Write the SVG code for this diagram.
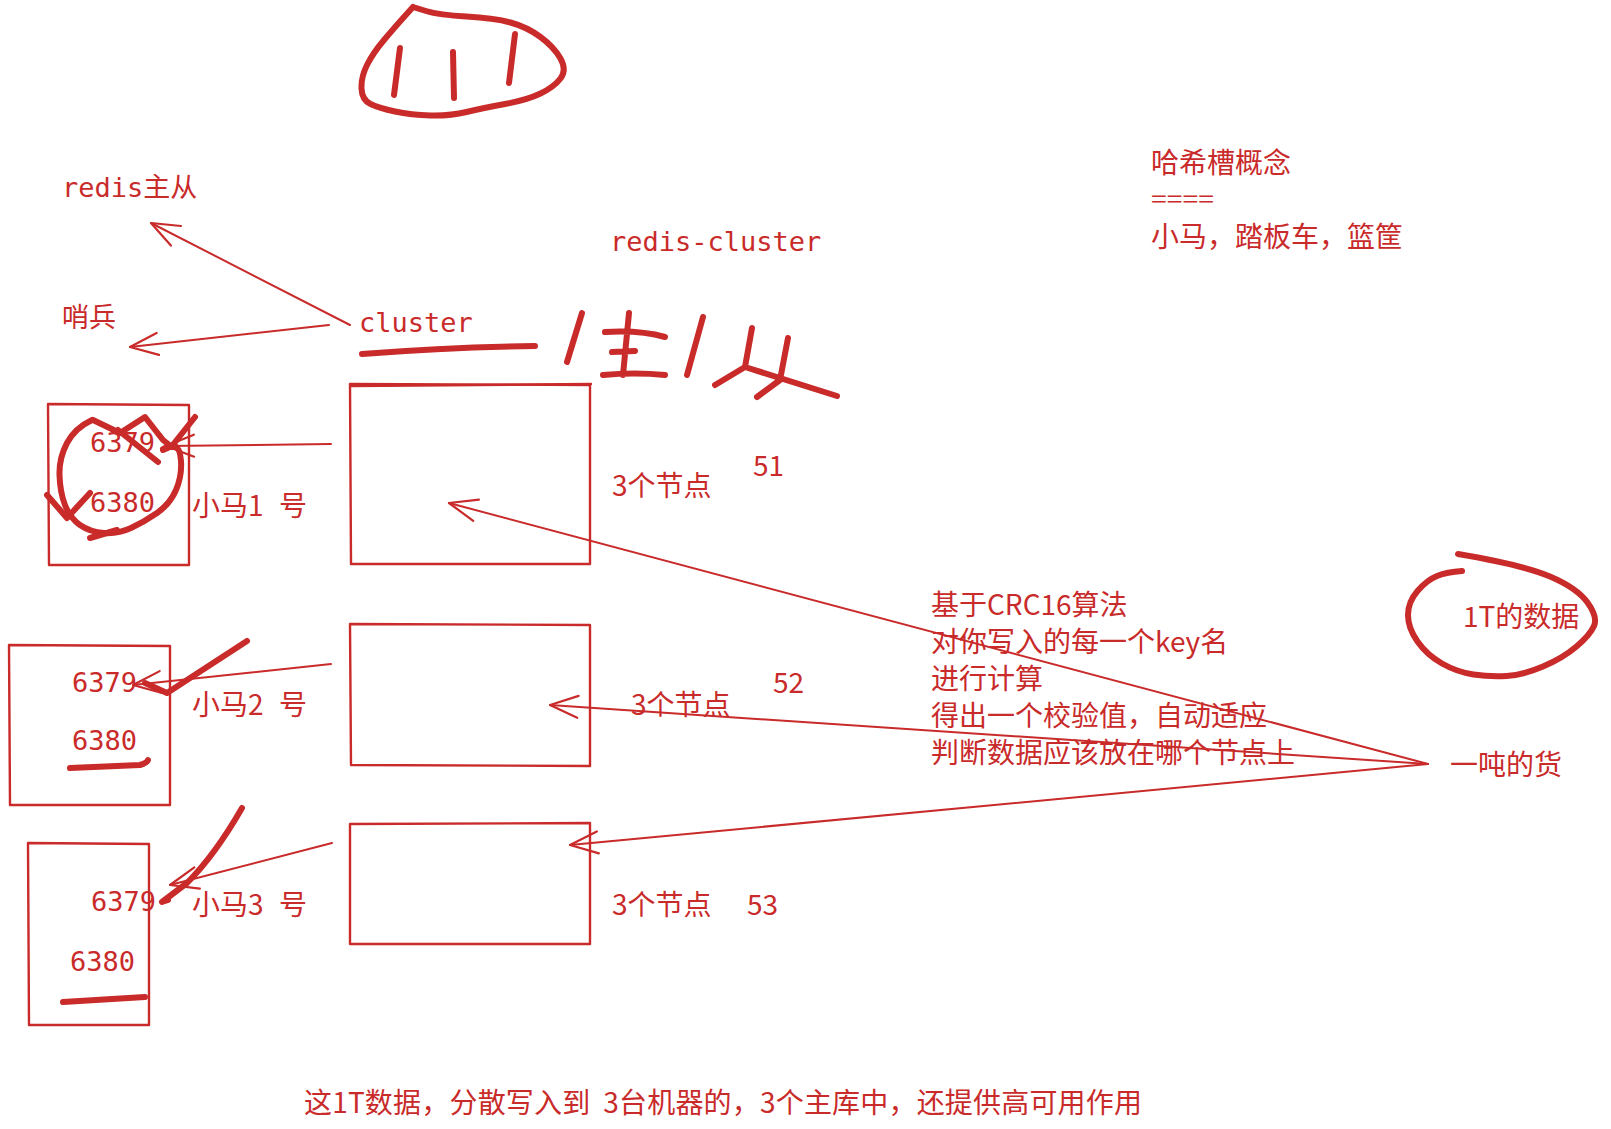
<svg xmlns="http://www.w3.org/2000/svg" width="1611" height="1129" viewBox="0 0 1611 1129">
<defs>
<style>
.bg{fill:#ffffff}
.t{font-family:"Noto Sans CJK SC","Noto Sans",sans-serif;font-size:28px;fill:#c92a2a}
.m{font-family:"DejaVu Sans Mono","Noto Sans CJK SC",monospace;font-size:27px;fill:#c92a2a}
.box{fill:none;stroke:#c92a2a;stroke-width:2.4;stroke-linejoin:round;stroke-linecap:round}
.ln{fill:none;stroke:#c92a2a;stroke-width:2;stroke-linecap:round}
.hand{fill:none;stroke:#c92a2a;stroke-width:6;stroke-linecap:round;stroke-linejoin:round}
</style>
<marker id="ah" viewBox="-32 -16 36 32" markerWidth="36" markerHeight="32" refX="0" refY="0" orient="auto" markerUnits="userSpaceOnUse">
<path d="M-28,-11 L0,0 L-28,11" fill="none" stroke="#c92a2a" stroke-width="2.2" stroke-linecap="round" stroke-linejoin="round"/>
</marker>
</defs>
<rect class="bg" x="0" y="0" width="1611" height="1129"/>

<g id="blob">
<path class="hand" stroke-width="5" d="M413,7 L426,11 Q439,15 466.5,16.5 Q494,18 510.5,22.5 Q527,27 540.5,37 Q554,47 560.5,58.5 Q567,70 560.5,78.5 Q554,87 540.5,93.5 Q527,100 505,104 Q483,108 466.5,112 Q450,116 430.5,115.5 Q411,115 395,111.5 Q379,108 370.5,104 Q362,100 361.5,88.5 Q361,77 367,65 Q373,53 384,40 Q395,27 404,17 L413,7"/>
<path class="hand" d="M400,48 L394,95 M453,52 L454,98 M515,34 L509,83"/>
</g>

<g id="title-texts">
<text class="m" x="62" y="197">redis主从</text>
<text class="m" x="62" y="327">哨兵</text>
<text class="m" x="610" y="251">redis-cluster</text>
<text class="t" x="1151" y="173">哈希槽概念</text>
<text class="t" x="1151" y="207" style="font-size:22px" textLength="63" lengthAdjust="spacingAndGlyphs">====</text>
<text class="t" x="1151" y="247">小马，踏板车，篮筐</text>
</g>

<g id="cluster">
<text class="m" x="359" y="332">cluster</text>
<path class="hand" d="M362,354 Q450,347 535,346"/>
</g>

<g id="master-slave-handwriting">
<path class="hand" stroke-width="6.5" d="M582,313 L567,362 M605,332 Q640,330 665,337 M629,313 L623,375 M612,352 L635,351 M603,375 Q635,372 665,375 M703,317 L687,375 M752,328 L745,367 L715,385 M745,367 L837,396 M788,338 L780,380 L757,397"/>
</g>

<g id="node1">
<path class="box" d="M350,384 L590,385 L590,564 L351,564 Z"/>
<path class="box" stroke-width="1.2" d="M351,386 L591,384"/>
<text class="t" x="612" y="496">3个节点</text>
<text class="t" x="753" y="476">51</text>
</g>
<g id="node2">
<path class="box" d="M350,624 L590,625 L590,766 L351,765 Z"/>
<text class="t" x="631" y="715">3个节点</text>
<text class="t" x="773" y="693">52</text>
</g>
<g id="node3">
<path class="box" d="M350,824 L590,823 L590,944 L350,944 Z"/>
<text class="t" x="612" y="915">3个节点</text>
<text class="t" x="747" y="915">53</text>
</g>

<g id="machine1">
<path class="box" d="M48,404 L189,405 L189,565 L49,565 Z"/>
<text class="m" x="90" y="452">6379</text>
<text class="m" x="90" y="512">6380</text>
<text class="t" x="192" y="516">小马1 <tspan x="279">号</tspan></text>
<path class="hand" stroke-width="6.5" d="M92,420 Q75,428 67,443 Q59,458 59.5,475 Q60,492 65,505 Q70,518 80,525 Q90,532 104,533 Q118,534 131,528 Q144,522 157,513 Q170,504 176,490 Q182,476 181,461 Q180,448 175,446 Q168,446 163,449"/>
<path class="hand" stroke-width="6" d="M93,420 L120,433 L145,417 L163,440 L172,447 M118,430 L158,462 M163,450 L172,446 L195,417 M47,495 L67,518 L90,493 M90,538 L117,530"/>
</g>

<g id="machine2">
<path class="box" d="M9,645 L170,646 L170,805 L10,805 Z"/>
<text class="m" x="72" y="692">6379</text>
<text class="m" x="72" y="750">6380</text>
<text class="t" x="192" y="715">小马2 <tspan x="279">号</tspan></text>
<path class="hand" d="M247,641 L167,693 L145,683"/>
<path class="hand" d="M70,768 L140,765 Q147,763 148,760"/>
</g>

<g id="machine3">
<path class="box" d="M28,843 L149,844 L149,1025 L29,1025 Z"/>
<text class="m" x="91" y="911">6379</text>
<text class="m" x="70" y="971">6380</text>
<text class="t" x="192" y="915">小马3 <tspan x="279">号</tspan></text>
<path class="hand" d="M242,808 Q215,855 187,883 L162,902 L168,900"/>
<path class="hand" d="M63,1002 L145,997"/>
</g>

<g id="hash-note">
<text class="t" x="931" y="615">基于CRC16算法</text>
<text class="t" x="931" y="652">对你写入的每一个key名</text>
<text class="t" x="931" y="689">进行计算</text>
<text class="t" x="931" y="726">得出一个校验值，自动适应</text>
<text class="t" x="931" y="763">判断数据应该放在哪个节点上</text>
</g>

<g id="data-1t">
<path class="hand" stroke-width="5" d="M1458,554 Q1523,565 1550,576.5 Q1577,588 1587.5,602.5 Q1598,617 1594,626 Q1590,635 1576.5,646.5 Q1563,658 1543,666.5 Q1523,675 1506.5,676 Q1490,677 1473.5,674.5 Q1457,672 1442,663.5 Q1427,655 1417.5,641.5 Q1408,628 1408,615 Q1408,602 1417.5,591 Q1427,580 1437,576 Q1447,572 1462,571"/>
<text class="t" x="1463" y="627">1T的数据</text>
</g>

<g id="goods">
<text class="t" x="1450" y="775">一吨的货</text>
</g>

<g id="summary">
<text class="t" x="304" y="1113" xml:space="preserve" textLength="838" lengthAdjust="spacing">这1T数据，分散写入到  3台机器的，3个主库中，还提供高可用作用</text>
</g>

<g id="connectors">
<path class="ln" d="M350,325 L151,223" marker-end="url(#ah)"/>
<path class="ln" d="M329,325 L130,347" marker-end="url(#ah)"/>
<path class="ln" d="M331,444 L166,446" marker-end="url(#ah)"/>
<path class="ln" d="M331,664 L133,685" marker-end="url(#ah)"/>
<path class="ln" d="M332,843 L170,885" marker-end="url(#ah)"/>
<path class="ln" stroke-width="2.6" d="M1428,764 L449,503" marker-end="url(#ah)"/>
<path class="ln" d="M1428,764 L550,705" marker-end="url(#ah)"/>
<path class="ln" stroke-width="3.6" d="M1428,764 L570,845" marker-end="url(#ah)"/>
</g>
</svg>
